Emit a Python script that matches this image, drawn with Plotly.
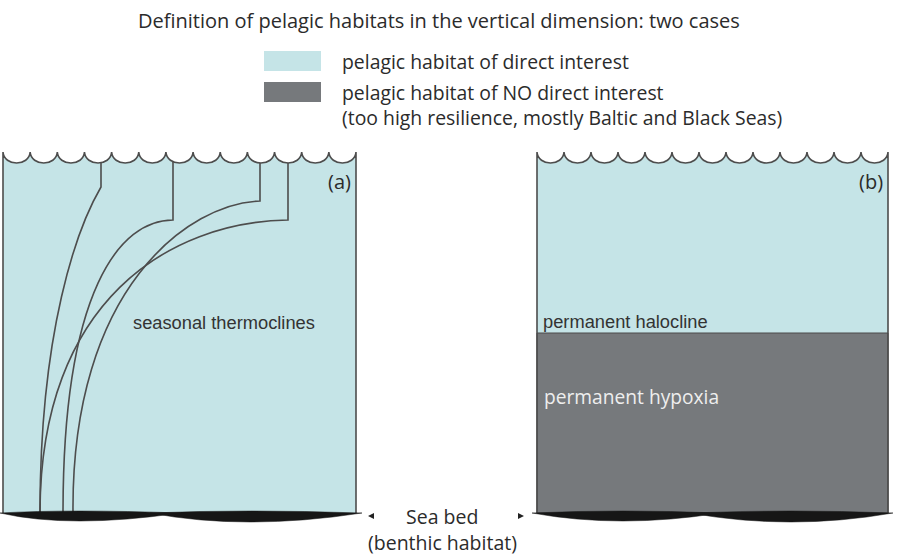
import plotly.graph_objects as go

W, H = 897, 556
LIGHT = "#c5e4e7"
DARK = "#76797c"
LINE = "#4d4d4d"
TEXT = "#2b2b2b"

# ---- text content ----
title_text = "Definition of pelagic habitats in the vertical dimension: two cases"
legend_labels = ["pelagic habitat of direct interest",
                 "pelagic habitat of NO direct interest",
                 "(too high resilience, mostly Baltic and Black Seas)"]
panel_labels = ["(a)", "(b)"]
label_thermo = "seasonal thermoclines"
label_halo = "permanent halocline"
label_hypoxia = "permanent hypoxia"
seabed_labels = ["Sea bed", "(benthic habitat)"]

# ---- diagram geometry (pixel-like data units) ----
panel_a_x = [3, 356]
panel_b_x = [537, 888]
cusp_y = 152
trough_y = 163
bed_y = 513
halocline_y = 333
n_waves = 13

# thermoclines: vertical drop from the surface, then a curve to the bed
therm_x_top = [101, 173, 260, 288]
therm_y_knee = [187, 220, 201, 220]
therm_c1 = [(77, 228), (120, 220), (190, 203), (170, 222)]
therm_c2 = [(40, 330), (63, 290), (71, 287), (40, 300)]
therm_x_bed = [40, 63, 73, 40]

# sea-bed lenses: (x start, x end, control x, control y)
lens_a = [(0, 180, 70, 529), (150, 362, 245, 531)]
lens_b = [(532, 720, 620, 529), (690, 893, 790, 531)]

legend_box_x = [264, 321]
legend_box_y = [(51, 71), (82, 102)]


def wave_top(x0, x1):
    w = (x1 - x0) / n_waves
    k = (trough_y - cusp_y) / 0.75
    s = ""
    for i in range(n_waves):
        a = x0 + i * w
        b = a + w
        s += f" C {a+1:.2f},{cusp_y+k:.2f} {b-1:.2f},{cusp_y+k:.2f} {b:.2f},{cusp_y}"
    return s


shapes = []
for (x0, x1) in (panel_a_x, panel_b_x):
    shapes.append(dict(type="path", xref="x", yref="y",
                       path=f"M {x0},{cusp_y}" + wave_top(x0, x1) + f" L {x1},{bed_y} L {x0},{bed_y} Z",
                       fillcolor=LIGHT, line=dict(width=0), layer="above"))

# dark hypoxic layer in panel b
shapes.append(dict(type="rect", xref="x", yref="y", x0=panel_b_x[0], x1=panel_b_x[1],
                   y0=halocline_y, y1=bed_y, fillcolor=DARK,
                   line=dict(color="#4a4a4a", width=1), layer="above"))

# thermoclines
for xt, yk, c1, c2, xb in zip(therm_x_top, therm_y_knee, therm_c1, therm_c2, therm_x_bed):
    shapes.append(dict(type="path", xref="x", yref="y",
                       path=f"M {xt},{cusp_y+3} L {xt},{yk} C {c1[0]},{c1[1]} {c2[0]},{c2[1]} {xb},{bed_y}",
                       line=dict(color=LINE, width=1.6), layer="above"))

# white mask above the waves, then outlines
for (x0, x1) in (panel_a_x, panel_b_x):
    shapes.append(dict(type="path", xref="x", yref="y",
                       path=f"M {x0-1},{cusp_y}" + wave_top(x0, x1) + f" L {x1+1},{cusp_y} L {x1+1},{cusp_y-8} L {x0-1},{cusp_y-8} Z",
                       fillcolor="white", line=dict(width=0), layer="above"))
    shapes.append(dict(type="path", xref="x", yref="y",
                       path=f"M {x0},{bed_y} L {x0},{cusp_y}" + wave_top(x0, x1) + f" L {x1},{bed_y}",
                       line=dict(color=LINE, width=1.6), layer="above"))

# sea bed lenses
for (xa, xb, cx, cy) in lens_a + lens_b:
    shapes.append(dict(type="path", xref="x", yref="y",
                       path=f"M {xa},{bed_y} Q {cx},{cy} {xb},{bed_y} Q {cx},{bed_y-4} {xa},{bed_y} Z",
                       fillcolor="#161616", line=dict(color="#161616", width=0.5), layer="above"))

# sea-bed arrows
shapes.append(dict(type="path", xref="x", yref="y", path="M 368,516 L 374,513 L 374,519 Z",
                   fillcolor="#222", line=dict(width=0), layer="above"))
shapes.append(dict(type="path", xref="x", yref="y", path="M 524,516 L 518,513 L 518,519 Z",
                   fillcolor="#222", line=dict(width=0), layer="above"))

# legend boxes
for (ya, yb), col in zip(legend_box_y, [LIGHT, DARK]):
    shapes.append(dict(type="rect", xref="x", yref="y", x0=legend_box_x[0], x1=legend_box_x[1],
                       y0=ya, y1=yb, fillcolor=col, line=dict(width=0), layer="above"))

ANN_FONT = "Open Sans, DejaVu Sans, sans-serif"
ARIAL = "Liberation Sans, Arial, sans-serif"
annotations = [
    dict(x=439, y=20, text=title_text, font=dict(family=ANN_FONT, size=20, color=TEXT)),
    dict(x=340, y=61, text=legend_labels[0], xanchor="left", font=dict(family=ANN_FONT, size=19.4, color=TEXT)),
    dict(x=340, y=92, text=legend_labels[1], xanchor="left", font=dict(family=ANN_FONT, size=19.4, color=TEXT)),
    dict(x=340, y=117, text=legend_labels[2], xanchor="left", font=dict(family=ANN_FONT, size=19.4, color=TEXT)),
    dict(x=339, y=181, text=panel_labels[0], font=dict(family=ANN_FONT, size=20, color=TEXT)),
    dict(x=871, y=181, text=panel_labels[1], font=dict(family=ANN_FONT, size=20, color=TEXT)),
    dict(x=224, y=322, text=label_thermo, font=dict(family=ARIAL, size=18.3, color="#333")),
    dict(x=541, y=321, text=label_halo, xanchor="left", font=dict(family=ARIAL, size=18.3, color="#333")),
    dict(x=542, y=396, text=label_hypoxia, xanchor="left", font=dict(family=ANN_FONT, size=19.2, color="#eeeeee")),
    dict(x=442, y=516, text=seabed_labels[0], font=dict(family=ANN_FONT, size=19.5, color=TEXT)),
    dict(x=442, y=542, text=seabed_labels[1], font=dict(family=ANN_FONT, size=19.5, color=TEXT)),
]
for a in annotations:
    a.update(xref="x", yref="y", showarrow=False, yanchor="middle")
    a.setdefault("xanchor", "center")

fig = go.Figure()
fig.add_trace(go.Scatter(x=[0, W], y=[0, H], mode="markers", marker=dict(opacity=0), hoverinfo="skip", showlegend=False))
fig.update_layout(
    width=W, height=H, margin=dict(l=0, r=0, t=0, b=0),
    paper_bgcolor="white", plot_bgcolor="white",
    xaxis=dict(range=[0, W], visible=False, fixedrange=True),
    yaxis=dict(range=[H, 0], visible=False, fixedrange=True),
    shapes=shapes, annotations=annotations, showlegend=False,
)
fig.write_html("out.html", config=dict(displayModeBar=False),
               post_script="document.body.style.margin='0';document.body.style.overflow='hidden';")
